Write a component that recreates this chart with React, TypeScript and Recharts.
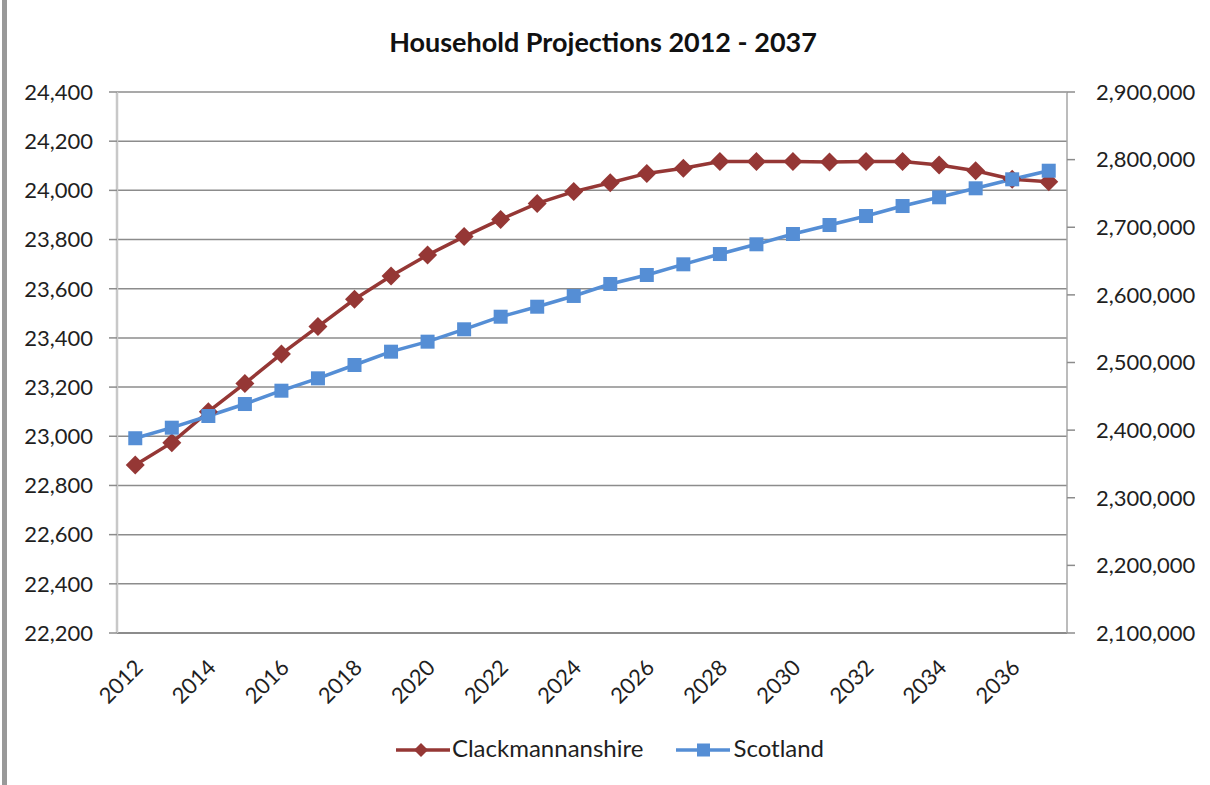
import React from 'react';
import { LineChart, Line, XAxis, YAxis, CartesianGrid, Legend } from 'recharts';

const years = [2012, 2013, 2014, 2015, 2016, 2017, 2018, 2019, 2020, 2021, 2022, 2023, 2024, 2025, 2026, 2027, 2028, 2029, 2030, 2031, 2032, 2033, 2034, 2035, 2036, 2037];
const clackmannanshire = [22883, 22974, 23100, 23215, 23335, 23446, 23557, 23652, 23737, 23812, 23882, 23947, 23995, 24031, 24069, 24090, 24117, 24117, 24117, 24115, 24117, 24117, 24103, 24080, 24045, 24035];
const scotland = [2388000, 2403600, 2420900, 2438600, 2458300, 2476600, 2496300, 2516000, 2530800, 2549100, 2567700, 2582500, 2598400, 2616100, 2629400, 2645200, 2660400, 2674800, 2690000, 2703300, 2716600, 2731400, 2744300, 2757600, 2770900, 2783600];
const leftTicks = [22200, 22400, 22600, 22800, 23000, 23200, 23400, 23600, 23800, 24000, 24200, 24400];
const rightTicks = [2100000, 2200000, 2300000, 2400000, 2500000, 2600000, 2700000, 2800000, 2900000];
const labelYears = [2012, 2014, 2016, 2018, 2020, 2022, 2024, 2026, 2028, 2030, 2032, 2034, 2036];
const seriesNames = ['Clackmannanshire', 'Scotland'];
const title = 'Household Projections 2012 - 2037';

const data = years.map((year, i) => ({ year, clackmannanshire: clackmannanshire[i], scotland: scotland[i] }));
const boundaries = [...years.map((y) => y - 0.5), years[years.length - 1] + 0.5];
const xDomain = [boundaries[0], boundaries[boundaries.length - 1]];

const RED = '#953735';
const BLUE = '#558ED5';
const FONT = 'Lato, "Open Sans", sans-serif';
const TEXT = '#1f1f1f';
const fmt = (v: number) => v.toLocaleString('en-US');

const Diamond = (props: any) => {
  const { cx, cy } = props;
  if (cx == null || cy == null) return null;
  const r = 9.5;
  return <path d={`M${cx},${cy - r}L${cx + r},${cy}L${cx},${cy + r}L${cx - r},${cy}Z`} fill={RED} stroke="none" />;
};

const Square = (props: any) => {
  const { cx, cy } = props;
  if (cx == null || cy == null) return null;
  const s = 14;
  return <rect x={cx - s / 2} y={cy - s / 2} width={s} height={s} fill={BLUE} stroke="none" />;
};

const YearTick = (props: any) => {
  const { x, y, payload } = props;
  const ax = x + 9;
  const ay = y + 36;
  return (
    <text x={ax} y={ay} textAnchor="end" transform={`rotate(-45, ${ax}, ${ay})`} fill={TEXT} fontSize={22} fontFamily={FONT}>
      {payload.value}
    </text>
  );
};

const LegendContent = () => (
  <div style={{ height: 26, display: 'flex', justifyContent: 'center', fontFamily: FONT, fontSize: 24, color: TEXT, paddingLeft: 10 }}>
    <div style={{ display: 'flex', alignItems: 'flex-start' }}>
      <svg width={56} height={26} style={{ display: 'block' }}>
        <line x1={0} y1={15} x2={54} y2={15} stroke={RED} strokeWidth={3.5} />
        <path d="M25,8L32,15L25,22L18,15Z" fill={RED} />
      </svg>
      <span style={{ lineHeight: '24px', paddingTop: 1 }}>{seriesNames[0]}</span>
    </div>
    <div style={{ display: 'flex', alignItems: 'flex-start', marginLeft: 33 }}>
      <svg width={57} height={26} style={{ display: 'block' }}>
        <line x1={0} y1={15} x2={54} y2={15} stroke={BLUE} strokeWidth={3.5} />
        <rect x={21} y={8.5} width={13} height={13} fill={BLUE} />
      </svg>
      <span style={{ lineHeight: '24px', paddingTop: 1 }}>{seriesNames[1]}</span>
    </div>
  </div>
);

export default function App() {
  return (
    <div style={{ position: 'relative', width: 1210, height: 785, background: '#fff', overflow: 'hidden' }}>
      <style>{'body{margin:0;}'}</style>
      <div style={{ position: 'absolute', left: 2, top: 0, width: 5, height: 785, background: '#999' }} />
      <div style={{ position: 'absolute', left: 0, width: 1206, top: 28, textAlign: 'center', fontFamily: FONT, fontWeight: 700, fontSize: 27, lineHeight: '27px', color: '#111' }}>
        {title}
      </div>
      <LineChart width={1210} height={785} data={data} margin={{ top: 92, right: 0, bottom: 24, left: 0 }}>
        <XAxis
          xAxisId="bounds"
          dataKey="year"
          type="number"
          domain={xDomain}
          ticks={boundaries}
          tick={false}
          tickLine={{ stroke: '#8c8c8c', strokeWidth: 1.5 }}
          tickSize={7}
          axisLine={false}
          height={0}
        />
        <XAxis
          xAxisId="main"
          dataKey="year"
          type="number"
          domain={xDomain}
          ticks={labelYears}
          interval={0}
          tick={<YearTick />}
          tickLine={false}
          tickSize={0}
          tickMargin={0}
          axisLine={{ stroke: '#8c8c8c', strokeWidth: 2 }}
          height={102}
        />
        <YAxis
          yAxisId="left"
          orientation="left"
          width={117}
          domain={[leftTicks[0], leftTicks[leftTicks.length - 1]]}
          ticks={leftTicks}
          interval={0}
          tickFormatter={fmt}
          tick={{ fill: TEXT, fontSize: 22, fontFamily: FONT }}
          tickLine={{ stroke: '#8c8c8c', strokeWidth: 1.5 }}
          tickSize={8}
          tickMargin={16}
          axisLine={{ stroke: '#c8c8c8', strokeWidth: 2.5 }}
        />
        <YAxis
          yAxisId="right"
          orientation="right"
          width={143}
          domain={[rightTicks[0], rightTicks[rightTicks.length - 1]]}
          ticks={rightTicks}
          interval={0}
          tickFormatter={fmt}
          tick={{ fill: TEXT, fontSize: 22, fontFamily: FONT }}
          tickLine={{ stroke: '#8c8c8c', strokeWidth: 1.5 }}
          tickSize={8}
          tickMargin={21}
          axisLine={{ stroke: '#a6a6a6', strokeWidth: 1.5 }}
        />
        <CartesianGrid xAxisId="main" yAxisId="left" vertical={false} stroke="#8c8c8c" strokeWidth={1.5} />
        <Legend verticalAlign="bottom" height={26} content={<LegendContent />} wrapperStyle={{ left: 0, width: 1210 }} />
        <Line
          xAxisId="main"
          yAxisId="left"
          type="linear"
          dataKey="clackmannanshire"
          name={seriesNames[0]}
          stroke={RED}
          strokeWidth={3.5}
          dot={<Diamond />}
          activeDot={false}
          isAnimationActive={false}
        />
        <Line
          xAxisId="main"
          yAxisId="right"
          type="linear"
          dataKey="scotland"
          name={seriesNames[1]}
          stroke={BLUE}
          strokeWidth={3.5}
          dot={<Square />}
          activeDot={false}
          isAnimationActive={false}
        />
      </LineChart>
    </div>
  );
}
